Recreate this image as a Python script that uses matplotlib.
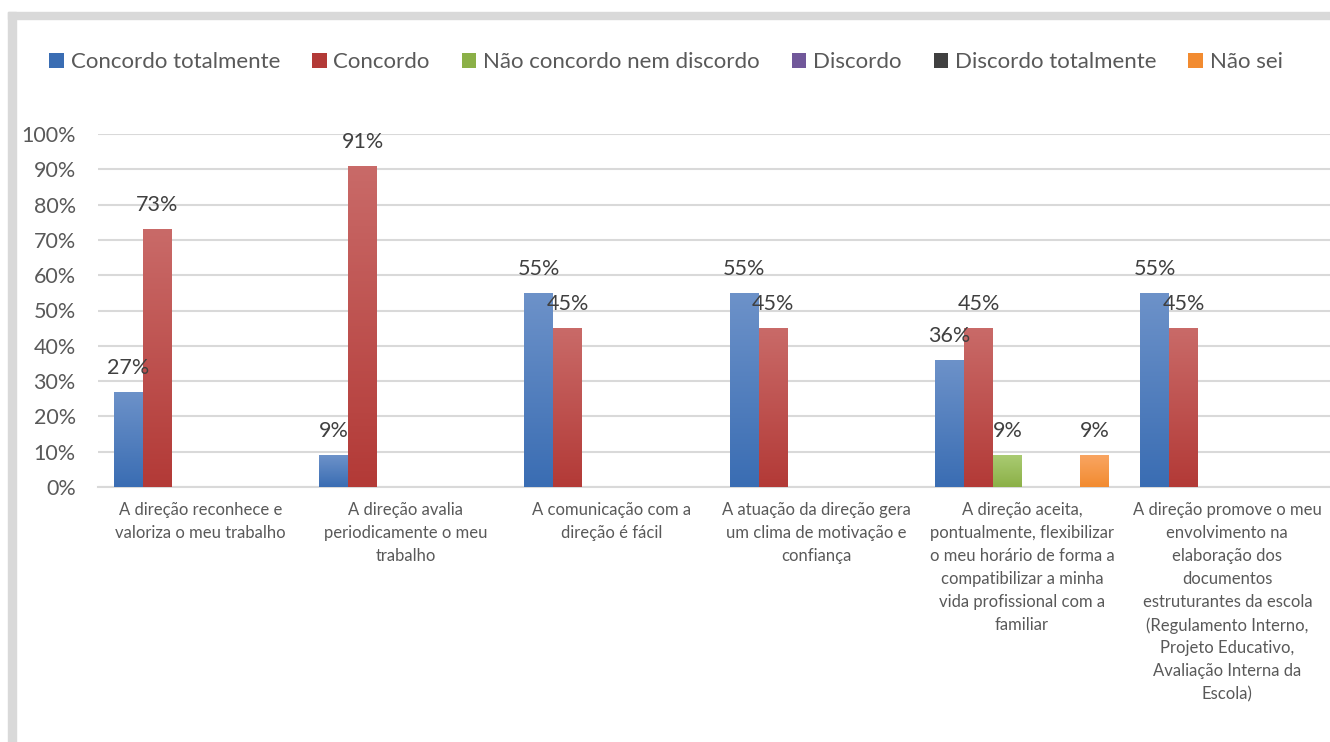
import numpy as np
import matplotlib.pyplot as plt
from matplotlib.colors import LinearSegmentedColormap
from matplotlib.patches import Rectangle

plt.rcParams['font.family'] = ['Lato', 'DejaVu Sans']

# data
categories = [
    "A direção reconhece e\nvaloriza o meu trabalho",
    "A direção avalia\nperiodicamente o meu\ntrabalho",
    "A comunicação com a\ndireção é fácil",
    "A atuação da direção gera\num clima de motivação e\nconfiança",
    "A direção aceita,\npontualmente, flexibilizar\no meu horário de forma a\ncompatibilizar a minha\nvida profissional com a\nfamiliar",
    "A direção promove o meu\nenvolvimento na\nelaboração dos\ndocumentos\nestruturantes da escola\n(Regulamento Interno,\nProjeto Educativo,\nAvaliação Interna da\nEscola)",
]
series_names = ["Concordo totalmente", "Concordo", "Não concordo nem discordo",
                "Discordo", "Discordo totalmente", "Não sei"]
concordo_totalmente = [27, 9, 55, 55, 36, 55]
concordo = [73, 91, 45, 45, 45, 45]
nem_nem = [0, 0, 0, 0, 9, 0]
discordo = [0, 0, 0, 0, 0, 0]
discordo_totalmente = [0, 0, 0, 0, 0, 0]
nao_sei = [0, 0, 0, 0, 9, 0]
series = [concordo_totalmente, concordo, nem_nem, discordo, discordo_totalmente, nao_sei]

# (top, bottom) gradient colours
grads = [("#6d92c9", "#3a6db3"), ("#c96a68", "#b33a37"), ("#aacb72", "#8bb047"),
         ("#9a82ba", "#71589a"), ("#6a6a6a", "#404040"), ("#f9a562", "#f28b30")]

fig = plt.figure(figsize=(13.3, 7.42), dpi=100)
ax = fig.add_axes([98/1330, 1-487/742, 1-98/1330, (487-134)/742])

# chart frame (cropped)
fig.patches.append(Rectangle((8/1330, 0), 8/1330, 1-12/742, transform=fig.transFigure,
                             color="#d9d9d9", zorder=0))
fig.patches.append(Rectangle((8/1330, 1-19/742), 1, 7/742, transform=fig.transFigure,
                             color="#d9d9d9", zorder=0))

x = np.arange(len(categories))
w = 0.141
for j, vals in enumerate(series):
    pos = x + (j - 2.5) * w
    top, bot = grads[j]
    cmap = LinearSegmentedColormap.from_list("g%d" % j, [bot, top])
    bars = ax.bar(pos, vals, w, color=bot, zorder=2, label=series_names[j])
    for b, v in zip(bars, vals):
        if v <= 0:
            continue
        x0 = b.get_x()
        grad = np.linspace(0, 1, 100).reshape(-1, 1)
        im = ax.imshow(grad, extent=[x0, x0 + w, 0, v], origin="lower", cmap=cmap,
                       aspect="auto", zorder=3)
        im.set_clip_path(b)
        ax.annotate("%d%%" % v, (x0 + w / 2, v), xytext=(0, 10), textcoords="offset points",
                    ha="center", va="bottom", fontsize=15.5, color="#404040", zorder=4)

ax.set_xlim(-0.5, len(categories) - 0.5)
ax.set_ylim(0, 100)
ax.set_yticks(range(0, 101, 10))
ax.set_yticklabels(["%d%%" % t for t in range(0, 101, 10)])
ax.set_xticks(x)
ax.set_xticklabels(categories, fontsize=12, color="#595959", linespacing=1.53, va="top")
ax.tick_params(axis="y", length=0, pad=16, labelsize=15.5, labelcolor="#595959")
ax.tick_params(axis="x", length=0, pad=11)
ax.grid(axis="y", color="#d9d9d9", linewidth=1.5, zorder=0)
ax.set_axisbelow(True)
for s in ["top", "right", "left"]:
    ax.spines[s].set_visible(False)
ax.spines["bottom"].set_color("#d9d9d9")
ax.spines["bottom"].set_linewidth(1.5)

fig.legend(loc="center", bbox_to_anchor=(666/1330, 1-62/742), ncol=6,
           frameon=False, handlelength=0.65, handleheight=0.65, handletextpad=0.3,
           columnspacing=1.45, fontsize=16, labelcolor="#595959")

fig.savefig("out.png", dpi=100, facecolor="white")
